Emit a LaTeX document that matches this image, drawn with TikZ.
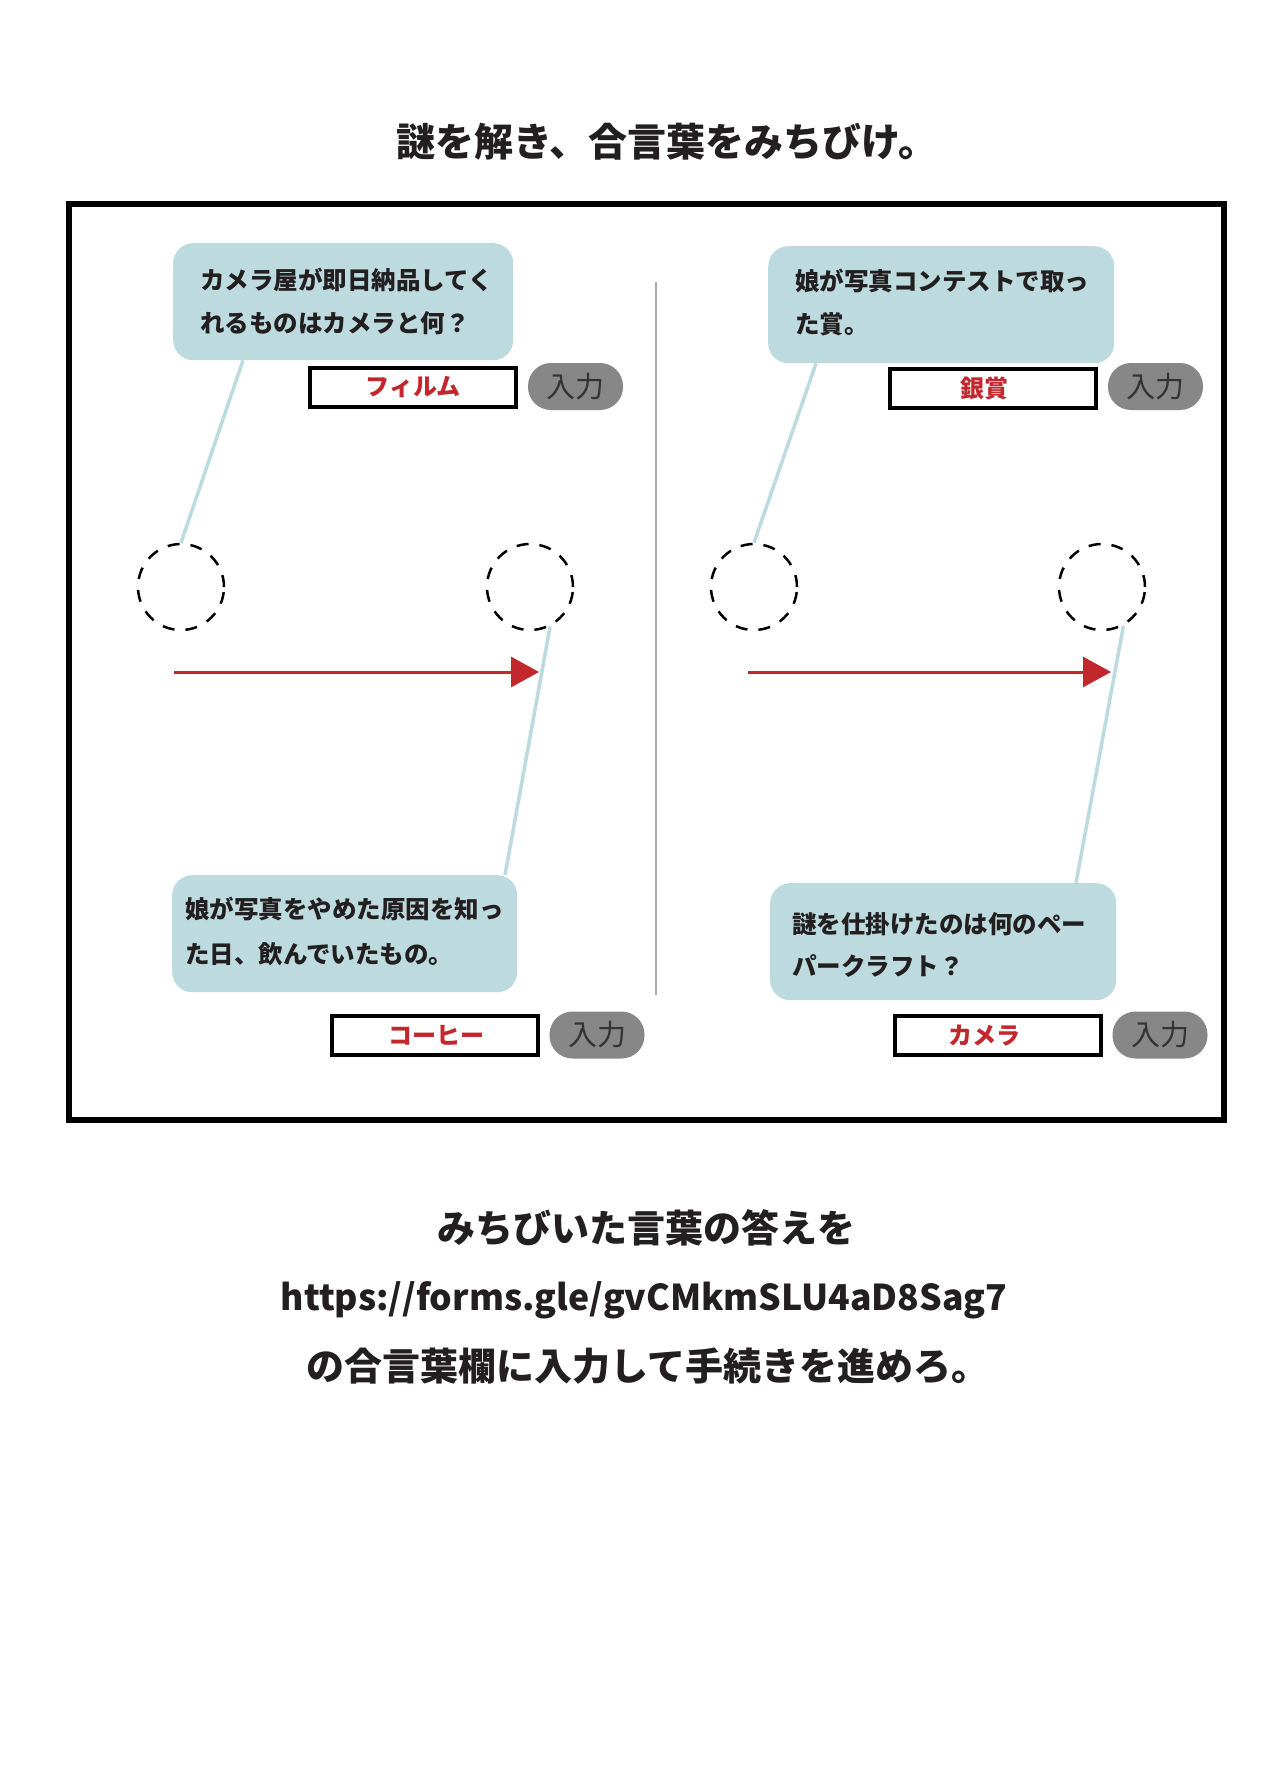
\documentclass[tikz,border=0pt]{standalone}
\usepackage{fontspec}
\setmainfont{Noto Sans CJK JP}
\usetikzlibrary{arrows.meta,calc}
\definecolor{bub}{HTML}{BDDBDF}
\definecolor{ansred}{HTML}{C1272D}
\definecolor{pillgray}{HTML}{878787}
\definecolor{pilltext}{HTML}{333333}
\definecolor{divgray}{HTML}{AAAAAA}
\definecolor{ink}{HTML}{231F20}
\tikzset{
  bubble/.style={fill=bub, rounded corners=20bp, draw=none, inner sep=0pt, anchor=north west,
                 minimum width=#1, minimum height=117bp},
  qtext/.style={font=\bfseries\fontsize{24.5bp}{30bp}\selectfont, text=ink, anchor=base west, inner sep=0pt},
  ansbox/.style={draw=black, line width=4bp, fill=white, minimum width=206bp, minimum height=39bp,
                 inner sep=0pt, text=ansred, font=\bfseries\fontsize{24bp}{24bp}\selectfont},
  pill/.style={fill=pillgray, rounded corners=23bp, minimum width=95bp, minimum height=47bp,
               inner sep=0pt, text=pilltext, font=\fontsize{29bp}{29bp}\selectfont},
  dcirc/.style={circle, draw=black, dash pattern=on 12bp off 11bp, line width=2.5bp,
                minimum size=86bp, inner sep=0pt},
  conn/.style={draw=bub, line width=3.5bp},
  redarrow/.style={draw=ansred, line width=3bp, -{Triangle[length=28bp,width=30bp]}},
  headtext/.style={font=\bfseries\fontsize{39bp}{40bp}\selectfont, text=ink, inner sep=0pt},
  foottext/.style={font=\bfseries\fontsize{38bp}{40bp}\selectfont, text=ink, inner sep=0pt, anchor=base},
}
\begin{document}
\begin{tikzpicture}[x=1bp,y=-1bp]
\useasboundingbox (0,0) rectangle (1275,1789);
\fill[white] (0,0) rectangle (1275,1789);

% title
\node[headtext, anchor=base west] (title) at (396,156) {謎を解き、合言葉をみちびけ。};

% frame and divider
\draw[line width=6bp, black] (68.5,204) rectangle (1223.5,1120);
\draw[divgray, line width=2bp] (656,282) -- (656,995);

% circles
\node[dcirc] (c1) at (181,587) {};
\node[dcirc] (c2) at (530,587) {};
\node[dcirc] (c3) at (754,587) {};
\node[dcirc] (c4) at (1102,587) {};

% bubbles (shapes)
\node[bubble=340bp] (b1) at (173,243) {};
\node[bubble=346bp] (b2) at (768,246) {};
\node[bubble=345bp] (b3) at (172,875) {};
\node[bubble=346bp] (b4) at (770,883) {};

% connectors
\draw[conn] ($(b1.south west)+(70,0)$) -- (c1.north);
\draw[conn] ($(b2.south west)+(48,0)$) -- (c3.north);
\draw[conn] (c2.-63) -- ($(b3.north west)+(333,0)$);
\draw[conn] (c4.-61) -- ($(b4.north west)+(306,0)$);

% question texts
\node[qtext] (q1a) at (200,289) {カメラ屋が即日納品してく};
\node[qtext] (q1b) at (200,332) {れるものはカメラと何？};
\node[qtext] (q2a) at (795,290) {娘が写真コンテストで取っ};
\node[qtext] (q2b) at (795,333) {た賞。};
\node[qtext] (q3a) at (185,918) {娘が写真をやめた原因を知っ};
\node[qtext] (q3b) at (185,963) {た日、飲んでいたもの。};
\node[qtext] (q4a) at (792,933) {謎を仕掛けたのは何のペー};
\node[qtext] (q4b) at (792,975) {パークラフト？};

% answer boxes
\node[ansbox] (a1) at (413,387.5) {フィルム};
\node[ansbox] (a2) at (992.5,388) {\kern-16bp 銀賞};
\node[ansbox] (a3) at (435,1035.5) {\kern2bp コーヒー};
\node[ansbox] (a4) at (998,1035.5) {\kern-28bp カメラ};

% input pills
\node[pill] (p1) at (575.5,386.5) {入力};
\node[pill] (p2) at (1155.5,386.5) {入力};
\node[pill] (p3) at (597,1035) {入力};
\node[pill] (p4) at (1160,1035) {入力};

% arrows
\coordinate (s1) at (174,672);
\coordinate (e1) at (539,672);
\coordinate (s2) at (748,672);
\coordinate (e2) at (1111,672);
\draw[redarrow] (s1) -- (e1);
\draw[redarrow] (s2) -- (e2);

% footer
\node[foottext] (f1) at (646,1242) {みちびいた言葉の答えを};
\node[foottext, font=\bfseries\fontsize{35.6bp}{40bp}\selectfont] (f2) at (644,1310) {https://forms.gle/gvCMkmSLU4aD8Sag7};
\node[foottext] (f3) at (648,1380) {の合言葉欄に入力して手続きを進めろ。};
\end{tikzpicture}
\end{document}
